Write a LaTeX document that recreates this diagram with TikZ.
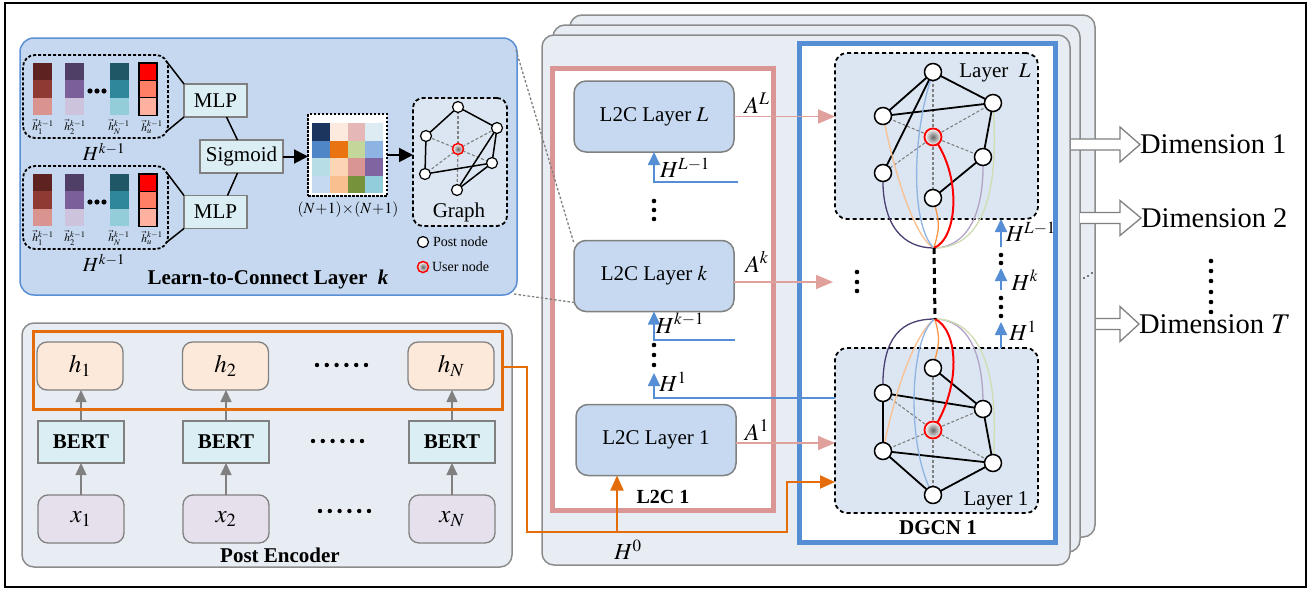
\documentclass[tikz,border=0pt]{standalone}
\usepackage{mathptmx}
\usepackage{fontspec}
\setmainfont{Liberation Serif}
\usetikzlibrary{arrows.meta,calc}

\definecolor{ltcfill}{HTML}{C6D8EF}
\definecolor{ltcdraw}{HTML}{5B8FD3}
\definecolor{panelbg}{HTML}{E8EDF4}
\definecolor{panelline}{HTML}{8C8C8C}
\definecolor{boxfill}{HTML}{C6D9F1}
\definecolor{mlpfill}{HTML}{DBEEF4}
\definecolor{hfill}{HTML}{FCE9DA}
\definecolor{xfill}{HTML}{E6E0EC}
\definecolor{graphfill}{HTML}{DCE6F2}
\definecolor{redbox}{HTML}{D99694}
\definecolor{bluebox}{HTML}{558ED5}
\definecolor{orangeline}{HTML}{E46C0A}
\definecolor{pinkline}{HTML}{E0A09C}
\definecolor{cpurple}{HTML}{4B3F72}
\definecolor{cpeach}{HTML}{FAC08F}
\definecolor{clblue}{HTML}{8DB4E2}
\definecolor{corange}{HTML}{F79646}
\definecolor{clav}{HTML}{B3A2C7}
\definecolor{colive}{HTML}{CFDDB0}
% bars
\definecolor{ba1}{HTML}{5E2320}\definecolor{ba2}{HTML}{8F3A33}\definecolor{ba3}{HTML}{DA9490}
\definecolor{bb1}{HTML}{4F3F66}\definecolor{bb2}{HTML}{7B5F9B}\definecolor{bb3}{HTML}{CDC3DC}
\definecolor{bc1}{HTML}{1F5767}\definecolor{bc2}{HTML}{2E879B}\definecolor{bc3}{HTML}{92CDD9}
\definecolor{bd1}{HTML}{FF0000}\definecolor{bd2}{HTML}{FF7F66}\definecolor{bd3}{HTML}{FFB1A0}
% matrix
\definecolor{m11}{HTML}{1C355E}\definecolor{m12}{HTML}{FDEADF}\definecolor{m13}{HTML}{E5B8B7}\definecolor{m14}{HTML}{DDEBF2}
\definecolor{m21}{HTML}{4F86C6}\definecolor{m22}{HTML}{E97311}\definecolor{m23}{HTML}{C4D79B}\definecolor{m24}{HTML}{8EB4E3}
\definecolor{m31}{HTML}{B7DDE6}\definecolor{m32}{HTML}{FCD5B4}\definecolor{m33}{HTML}{D99594}\definecolor{m34}{HTML}{8064A2}
\definecolor{m41}{HTML}{C5D9F1}\definecolor{m42}{HTML}{F9BF8F}\definecolor{m43}{HTML}{76933C}\definecolor{m44}{HTML}{92CDDC}

\newcommand{\fsz}[1]{\fontsize{#1}{#1}\selectfont}

\tikzset{
  every node/.style={inner sep=0pt, outer sep=0pt},
  panel/.style={draw=panelline, fill=panelbg, line width=1.5, rounded corners=12},
  l2cbox/.style={draw=gray, fill=boxfill, line width=1.5, rounded corners=12, minimum width=160, minimum height=71, font=\fsz{21}},
  mlpbox/.style={draw=gray, fill=mlpfill, line width=1.8, font=\fsz{21}, minimum height=33},
  hbox/.style={draw=gray, fill=hfill, line width=1.3, rounded corners=10, minimum width=86, minimum height=48, font=\fsz{25}},
  bertbox/.style={draw=gray, fill=mlpfill, line width=1.5, minimum width=86, minimum height=42, font=\fsz{21}\bfseries},
  xbox/.style={draw=gray, fill=xfill, line width=1.3, rounded corners=10, minimum width=86, minimum height=48, font=\fsz{25}},
  dbox/.style={draw=black, dash pattern=on 4pt off 3pt, line width=1.8, rounded corners=12},
  pn/.style={circle, draw=black, fill=white, line width=1.2, minimum size=11},
  un/.style={circle, draw=red, line width=1.5, inner color=black!60, outer color=white, minimum size=11},
  bn/.style={circle, draw=black, fill=white, line width=1.5, minimum size=17},
  bu/.style={circle, draw=red, line width=1.8, inner color=black!60, outer color=white, minimum size=17},
  bedge/.style={draw=black, line width=1.8},
  sedge/.style={draw=black, line width=1.5},
  gdash/.style={draw=gray, line width=1.1, dash pattern=on 3pt off 2pt},
  garrow/.style={draw=gray, line width=1.5, -{Triangle[length=12pt,width=11pt]}},
  barrow/.style={draw=bluebox, line width=1.8, -{Triangle[length=13pt,width=12pt]}},
  parrow/.style={draw=pinkline, line width=1.8, -{Triangle[length=17pt,width=14pt]}},
  oarrow/.style={draw=orangeline, line width=2, -{Triangle[length=15pt,width=13pt]}},
  curv/.style={line width=1.3},
  dimarrow/.style={draw=gray, fill=white, line width=1.3},
  vlab/.style={font=\fsz{11.5}},
}

\begin{document}
\begin{tikzpicture}[x=1pt,y=-1pt]
\useasboundingbox (0,0) rectangle (1310,589);
\draw[line width=1.6] (5,3) rectangle (1306,587);

% ---------- stacked main panels ----------
\node[panel, minimum width=525, minimum height=522] (pback) at (832.5,276) {};
\node[panel, minimum width=527, minimum height=527] (pmid) at (816.5,288.5) {};
\node[panel, minimum width=528, minimum height=530] (pfront) at (806,300) {};

\node[draw=redbox, fill=white, line width=5, minimum width=221, minimum height=442] (redb) at (662.5,289) {};
\node[draw=bluebox, fill=white, line width=5, minimum width=256, minimum height=499] (blueb) at (927,292.5) {};

% ---------- L2C layers ----------
\node[l2cbox] (lL) at (654,116.5) {L2C Layer $L$};
\node[l2cbox] (lk) at (654,276) {L2C Layer $k$};
\node[l2cbox] (l1) at (656,440) {L2C Layer 1};
\node[font=\fsz{20}\bfseries] (l2clab) at (663,497) {L2C 1};

% ---------- DGCN boxes ----------
\node[dbox, fill=graphfill, minimum width=203, minimum height=166] (dgL) at (936.5,136) {};
\node[dbox, fill=graphfill, minimum width=203, minimum height=165] (dgO) at (936.5,430.5) {};
\node[font=\fsz{21}] (layL) at (995,73) {Layer \ $L$};
\node[font=\fsz{21}] (lay1) at (996,501) {Layer 1};
\node[font=\fsz{21}\bfseries] (dgcnlab) at (938,528) {DGCN 1};

% Layer L graph
\coordinate (LT) at (933,72);
\coordinate (LR) at (993,103);
\coordinate (LLU) at (883,116);
\coordinate (LC) at (933,137);
\coordinate (LRL) at (983,157);
\coordinate (LLL) at (883,173);
\coordinate (LB) at (933,198);
\coordinate (PU) at (934,248);
\foreach \n in {LT,LR,LLU,LRL,LLL,LB} \draw[gdash] (LC) -- (\n);
\draw[bedge] (LLU) -- (LT);
\draw[bedge] (LT) -- (LR);
\draw[bedge] (LLU) -- (LR);
\draw[bedge] (LT) -- (LLL);
\draw[bedge] (LR) -- (LRL);
\draw[bedge] (LRL) -- (LB);
\draw[curv, cpurple] (LLL) .. controls (881,228) and (905,248) .. (PU);
\draw[curv, cpeach] (LLU) .. controls (898,190) and (918,240) .. (PU);
\draw[curv, clblue] (LT) .. controls (910,140) and (912,228) .. (PU);
\draw[curv, corange] (LB) .. controls (940,225) .. (PU);
\draw[curv, clav] (LRL) .. controls (985,228) and (958,248) .. (PU);
\draw[curv, colive] (LR) .. controls (1002,225) and (966,248) .. (PU);
\draw[line width=2, red] (LC) .. controls (962,175) and (958,238) .. (PU);
\foreach \n in {LT,LR,LLU,LRL,LLL,LB} \node[bn] (n\n) at (\n) {};
\node[bu] (nLC) at (LC) {};

% Layer 1 graph
\coordinate (OT) at (933,368);
\coordinate (OLU) at (883,393);
\coordinate (ORU) at (983,409);
\coordinate (OC) at (933,430);
\coordinate (OLL) at (883,451);
\coordinate (ORL) at (993,463);
\coordinate (OB) at (933,495);
\coordinate (PD) at (935,319);
\foreach \n in {OT,OLU,ORU,OLL,ORL,OB} \draw[gdash] (OC) -- (\n);
\draw[bedge] (OT) -- (ORU);
\draw[bedge] (OLU) -- (ORU);
\draw[bedge] (OLU) -- (OLL);
\draw[bedge] (OLL) -- (ORL);
\draw[bedge] (OLL) -- (OB);
\draw[bedge] (OB) -- (ORL);
\draw[bedge] (ORU) -- (ORL);
\draw[curv, cpurple] (OLU) .. controls (881,335) and (903,319) .. (PD);
\draw[curv, cpeach] (OLL) .. controls (897,380) and (918,330) .. (PD);
\draw[curv, clblue] (OB) .. controls (905,445) and (910,335) .. (PD);
\draw[curv, corange] (OT) .. controls (940,340) .. (PD);
\draw[curv, clav] (ORU) .. controls (984,340) and (960,319) .. (PD);
\draw[curv, colive] (ORL) .. controls (1002,345) and (966,319) .. (PD);
\draw[line width=2, red] (OC) .. controls (962,385) and (958,330) .. (PD);
\foreach \n in {OT,OLU,ORU,OLL,ORL,OB} \node[bn] (n\n) at (\n) {};
\node[bu] (nOC) at (OC) {};

\draw[line width=3, dash pattern=on 6pt off 4pt] (PU) -- (PD);

% left dots in DGCN
\foreach \y in {272,282,291} \fill (857,\y) circle (2.3pt);

% right H arrows in DGCN
\coordinate (hr1) at (1001,247);
\draw[barrow] (hr1) -- (hr1 |- dgL.south);
\foreach \y in {255,263} \fill (1001,\y) circle (2.3pt);
\coordinate (hr2) at (1001,290);
\coordinate (hr2t) at (1001,268);
\draw[barrow] (hr2) -- (hr2t);
\foreach \y in {298,307,316} \fill (1001,\y) circle (2.3pt);
\coordinate (hr3) at (1001,322);
\draw[barrow] (hr3 |- dgO.north) -- (hr3);
\node[font=\fsz{23}] (hrl1) at (1031,232) {$H^{L-1}$};
\node[font=\fsz{23}] (hrl2) at (1025,280) {$H^{k}$};
\node[font=\fsz{23}] (hrl3) at (1023,331) {$H^{1}$};

% pink arrows
\draw[parrow] (lL.east) -- (lL.east -| dgL.west);
\coordinate (pk) at (833,282);
\draw[parrow] (lk.east |- pk) -- (pk);
\coordinate (p1) at (835,443);
\draw[parrow] (l1.east |- p1) -- (p1);
\node[font=\fsz{24}] (aL) at (757,103) {$A^{L}$};
\node[font=\fsz{24}] (ak) at (757,262) {$A^{k}$};
\node[font=\fsz{24}] (a1) at (757,430) {$A^{1}$};

% blue arrows in L2C
\coordinate (hl) at (738,182);
\draw[barrow] (hl) -| (lL.south);
\node[font=\fsz{23}] (hll) at (685,168) {$H^{L-1}$};
\foreach \y in {201,210,219} \fill (654,\y) circle (2.3pt);
\coordinate (hk) at (735,340);
\draw[barrow] (hk) -| (lk.south);
\node[font=\fsz{23}] (hkl) at (680,323) {$H^{k-1}$};
\foreach \y in {345,355,365} \fill (654,\y) circle (2.3pt);
\coordinate (h1s) at (835,398);
\coordinate (h1t) at (654,373);
\draw[barrow] (h1s) -| (h1t);
\node[font=\fsz{23}] (h1l) at (673,382) {$H^{1}$};

% ---------- Learn-to-Connect panel ----------
\node[draw=ltcdraw, fill=ltcfill, line width=1.5, rounded corners=14, minimum width=497, minimum height=257] (ltc) at (268.5,166.5) {};
\node[draw=black, line width=1.8, dash pattern=on 3pt off 2pt, rounded corners=12, minimum width=145, minimum height=83] (ub) at (95.5,96.5) {};
\node[draw=black, line width=1.8, dash pattern=on 3pt off 2pt, rounded corners=12, minimum width=145, minimum height=83] (lb) at (95.5,207.5) {};
\foreach \yo in {0,111}{
  \foreach \xa/\ca/\cb/\cc in {33/ba1/ba2/ba3, 65/bb1/bb2/bb3, 110/bc1/bc2/bc3}{
    \fill[\ca] (\xa,63+\yo) rectangle ++(18.5,17.4);
    \fill[\cb] (\xa,80.4+\yo) rectangle ++(18.5,17.4);
    \fill[\cc] (\xa,97.8+\yo) rectangle ++(18.5,17.4);
  }
  \filldraw[fill=bd1, draw=black, line width=1.3] (139,63+\yo) rectangle ++(18,17.4);
  \filldraw[fill=bd2, draw=black, line width=1.3] (139,80.4+\yo) rectangle ++(18,17.4);
  \filldraw[fill=bd3, draw=black, line width=1.3] (139,97.8+\yo) rectangle ++(18,17.4);
  \foreach \xd in {90,97,104} \fill (\xd,91+\yo) circle (2.6pt);
  \node[vlab] (va\yo) at (43,127+\yo) {$\vec{h}_{1}^{k-1}$};
  \node[vlab] (vb\yo) at (75,127+\yo) {$\vec{h}_{2}^{k-1}$};
  \node[vlab] (vc\yo) at (119,127+\yo) {$\vec{h}_{N}^{k-1}$};
  \node[vlab] (vd\yo) at (152,127+\yo) {$\vec{h}_{u}^{k-1}$};
  \node[font=\fsz{20}] (hh\yo) at (104,152+\yo) {$H^{k-1}$};
}
\node[mlpbox, minimum width=63] (mlp1) at (215.5,100.5) {MLP};
\node[mlpbox, minimum width=63] (mlp2) at (215.5,212) {MLP};
\node[mlpbox, minimum width=83] (sig) at (241.5,156.5) {Sigmoid};
\draw[line width=1.5] (167,62) -- (mlp1.north west);
\draw[line width=1.5] (167,131) -- (mlp1.south west);
\draw[line width=1.5] (167,173) -- (mlp2.north west);
\draw[line width=1.5] (167,242) -- (mlp2.south west);
\draw[line width=1.5] ($(mlp1.south)+(11,0)$) -- ($(sig.north)+(-4,0)$);
\draw[line width=1.5] ($(sig.south)+(-4,0)$) -- ($(mlp2.north)+(12,0)$);

\node[draw=black, fill=white, line width=1.5, dash pattern=on 2.5pt off 1.5pt, minimum width=79, minimum height=82] (mat) at (347.5,155) {};
\foreach \r/\ra/\rb/\rc/\rd in {0/m11/m12/m13/m14, 1/m21/m22/m23/m24, 2/m31/m32/m33/m34, 3/m41/m42/m43/m44}{
  \fill[\ra] (312,123+17.5*\r) rectangle ++(17.75,17.5);
  \fill[\rb] (329.75,123+17.5*\r) rectangle ++(17.75,17.5);
  \fill[\rc] (347.5,123+17.5*\r) rectangle ++(17.75,17.5);
  \fill[\rd] (365.25,123+17.5*\r) rectangle ++(17.75,17.5);
}
\node[font=\fsz{15.5}] (matlab) at (348,210) {$(N\!+\!1)\!\times\!(N\!+\!1)$};
\draw[line width=2, -{Triangle[length=14pt,width=14pt]}] (sig.east) -- (sig.east -| mat.west);

\node[draw=black, fill=graphfill, line width=1.8, dash pattern=on 4pt off 2.5pt, rounded corners=10, minimum width=94, minimum height=128] (gbox) at (460,162) {};
\draw[line width=2, -{Triangle[length=14pt,width=14pt]}] (mat.east) -- (mat.east -| gbox.west);
\node[font=\fsz{21}] (glab) at (459,212) {Graph};
\coordinate (gT) at (458,107);
\coordinate (gR) at (497,128);
\coordinate (gLU) at (426,136);
\coordinate (gC) at (458,149);
\coordinate (gLL) at (425,174);
\coordinate (gRL) at (492,163);
\coordinate (gB) at (457,190);
\foreach \n in {gT,gR,gLU,gLL,gRL,gB} \draw[gdash] (gC) -- (\n);
\draw[sedge] (gLU) -- (gT);
\draw[sedge] (gT) -- (gR);
\draw[sedge] (gR) -- (gRL);
\draw[sedge] (gR) -- (gB);
\draw[sedge] (gLU) -- (gLL);
\draw[sedge] (gLL) -- (gRL);
\draw[sedge] (gRL) -- (gB);
\foreach \n in {gT,gR,gLU,gLL,gRL,gB} \node[pn] (n\n) at (\n) {};
\node[un] (ngC) at (gC) {};

\node[pn] (lgp) at (423,242) {};
\node[font=\fsz{14}, anchor=west] (lgpt) at (433,242) {Post node};
\node[un] (lgu) at (423,267) {};
\node[font=\fsz{14}, anchor=west] (lgut) at (432,267) {User node};
\node[font=\fsz{21}\bfseries] (ltclab) at (268,279) {Learn-to-Connect Layer~~\textit{k}};

% ---------- Post encoder ----------
\node[panel, minimum width=490, minimum height=244] (pe) at (267,445) {};
\node[hbox] (h1) at (80,366) {$h_{1}$};
\node[hbox] (h2) at (225.5,366) {$h_{2}$};
\node[hbox] (hN) at (451,366) {$h_{N}$};
\node[bertbox] (b1) at (81,442) {BERT};
\node[bertbox] (b2) at (226,442) {BERT};
\node[bertbox] (bN) at (452,442) {BERT};
\node[xbox] (x1) at (81,519) {$x_{1}$};
\node[xbox] (x2) at (226,519) {$x_{2}$};
\node[xbox] (xN) at (452,519) {$x_{N}$};
\foreach \a/\b in {x1/b1,x2/b2,xN/bN} \draw[garrow] (\a.north) -- (\a.north |- \b.south);
\foreach \a/\b in {b1/h1,b2/h2,bN/hN} \draw[garrow] (\a.north) -- (\a.north |- \b.south);
\node[draw=orangeline, line width=3, minimum width=469, minimum height=78] (orect) at (267.5,370) {};
\foreach \i in {0,...,5} {
  \fill (317+9.8*\i,365) circle (2.2pt);
  \fill (313+9.8*\i,441) circle (2.2pt);
  \fill (320+9.8*\i,511) circle (2.2pt);
}
\node[font=\fsz{21}\bfseries] (pelab) at (280,555) {Post Encoder};

% orange path
\coordinate (oa) at (527,367);
\coordinate (ob) at (527,532);
\coordinate (oc) at (787,532);
\coordinate (od) at (787,482);
\coordinate (oe) at (835,482);
\draw[oarrow] (orect.east |- oa) -- (oa) -- (ob) -- (oc) -- (od) -- (oe);
\coordinate (obr) at (617,532);
\draw[oarrow] (obr) -- (obr |- l1.south);
\node[font=\fsz{23}] (h0) at (628,550) {$H^{0}$};

% dotted zoom lines
\draw[gray, line width=1.3, dash pattern=on 2.5pt off 2pt] (516,50) -- ($(lk.north west)+(0,3)$);
\draw[gray, line width=1.3, dash pattern=on 2.5pt off 2pt] (514,294) -- ($(lk.south west)+(0,-9)$);

% ---------- dimension outputs ----------
\node[font=\fsz{28.5}, anchor=west] (dim1) at (1140,144.5) {Dimension 1};
\node[font=\fsz{28.5}, anchor=west] (dim2) at (1141,218) {Dimension 2};
\node[font=\fsz{28.5}, anchor=west] (dimT) at (1139,324) {Dimension $T$};
\filldraw[dimarrow] (1071,139) -- (1120,139) -- (1120,127) -- (dim1.west) -- (1120,162) -- (1120,150) -- (1071,150);
\filldraw[dimarrow] (1080,212.5) -- (1120,212.5) -- (1120,200.5) -- (dim2.west) -- (1120,235.5) -- (1120,223.5) -- (1080,223.5);
\filldraw[dimarrow] (1096,318.5) -- (1120,318.5) -- (1120,306.5) -- (dimT.west) -- (1120,341.5) -- (1120,329.5) -- (1096,329.5);
\foreach \y in {261,271,281,292,302,312} \fill (1211,\y) circle (2.3pt);
\foreach \x/\y in {1084/278,1088/276,1092/273} \fill (\x,\y) circle (0.8pt);
\end{tikzpicture}
\end{document}
